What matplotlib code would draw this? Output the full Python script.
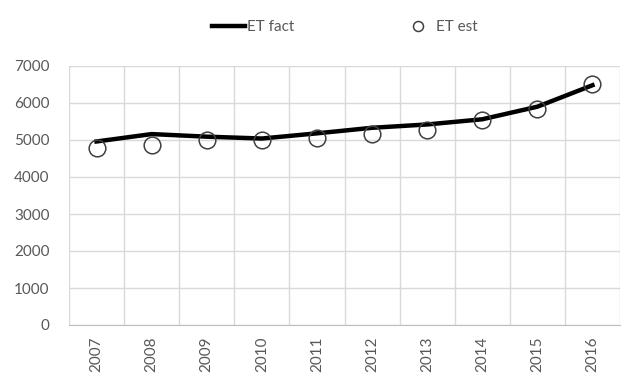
import matplotlib.pyplot as plt

years = ["2007", "2008", "2009", "2010", "2011", "2012", "2013", "2014", "2015", "2016"]
et_fact = [4960, 5160, 5090, 5040, 5180, 5330, 5420, 5560, 5900, 6480]
et_est = [4780, 4860, 5010, 5010, 5060, 5160, 5270, 5540, 5840, 6520]

plt.rcParams['font.family'] = ['Lato', 'DejaVu Sans']

fig = plt.figure(figsize=(6.21, 3.85), dpi=100)
ax = fig.add_axes([69 / 621, 60 / 385, 551 / 621, 259 / 385])

x = list(range(len(years)))
line, = ax.plot(x, et_fact, color="black", linewidth=3.2, zorder=3, label="ET fact")
pts, = ax.plot(x, et_est, linestyle="none", marker="o", markersize=12,
               markerfacecolor="none", markeredgecolor="#404040",
               markeredgewidth=1.1, zorder=4, label="ET est")

ax.set_xlim(-0.5, len(years) - 0.5)
ax.set_ylim(0, 7000)
ax.set_yticks(range(0, 7001, 1000))
ax.set_xticks(x)
ax.set_xticklabels(years, rotation=90)
# vertical grid sits between categories
ax.set_xticks([i - 0.5 for i in range(len(years) + 1)], minor=True)
ax.grid(axis="y", color="#d9d9d9", linewidth=1)
ax.grid(axis="x", which="minor", color="#d9d9d9", linewidth=1)
ax.set_axisbelow(True)

for side in ["top", "right", "left"]:
    ax.spines[side].set_visible(False)
ax.spines["bottom"].set_color("#bfbfbf")
ax.tick_params(which="both", length=0, labelsize=11, labelcolor="#595959")
ax.tick_params(axis="x", pad=8)
ax.tick_params(axis="y", pad=14)

fig.legend(handles=[line, pts], loc="center", bbox_to_anchor=(0.555, 0.93),
           ncol=2, frameon=False, fontsize=11, labelcolor="#595959",
           columnspacing=7, handlelength=2.2, handletextpad=0.1,
           markerscale=0.6)

fig.savefig("out.png", dpi=100)
